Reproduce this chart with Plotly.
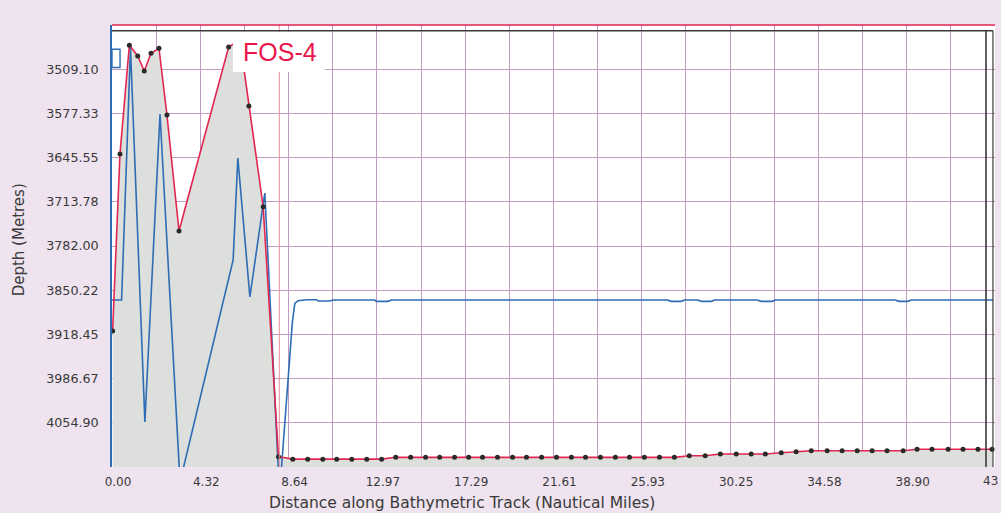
import plotly.graph_objects as go

# ---------------- data ----------------
# Red depth profile with black dots (distance in nautical miles, depth in metres)
profile_nm = [0.03, 0.39, 0.85, 1.26, 1.58, 1.91, 2.30, 2.69, 3.28, 5.71, 6.26, 6.70, 7.40, 8.15,
              8.85, 9.58, 10.32, 11.00, 11.74, 12.47, 13.20, 13.89, 14.62, 15.35, 16.04, 16.77,
              17.46, 18.14, 18.87, 19.61, 20.29, 21.03, 21.76, 22.49, 23.18, 23.91, 24.64, 25.33,
              26.06, 26.80, 27.53, 28.26, 29.04, 29.78, 30.56, 31.29, 31.98, 32.76, 33.49, 34.23,
              35.01, 35.74, 36.48, 37.21, 37.94, 38.73, 39.41, 40.14, 40.93, 41.66, 42.39, 43.08]
profile_depth = [3913.2, 3640.0, 3472.2, 3488.7, 3511.9, 3484.6, 3476.8, 3579.8, 3758.9, 3474.8,
                 3464.0, 3565.9, 3721.4, 4107.2,
                 4111.0, 4111.0, 4111.0, 4111.0, 4111.0, 4111.0, 4111.0, 4108.2, 4108.2, 4108.2,
                 4108.2, 4108.2, 4108.2, 4108.2, 4108.2, 4108.2, 4108.2, 4108.2, 4108.2, 4108.2,
                 4108.2, 4108.2, 4108.2, 4108.2, 4108.2, 4108.2, 4108.2, 4105.7, 4105.7, 4103.1,
                 4103.1, 4103.1, 4103.1, 4101.1, 4099.5, 4098.0, 4098.0, 4098.0, 4098.0, 4098.0,
                 4098.0, 4098.0, 4095.8, 4095.8, 4095.8, 4095.8, 4095.8, 4095.8]

# Blue track line
track_nm = [0.00, 0.47, 0.905, 1.61, 2.35, 3.33, 5.93, 6.16, 6.75, 7.48,
            8.20, 8.83, 8.95, 9.11, 9.52, 10.01, 10.09, 10.66, 10.82, 12.86,
            12.94, 13.51, 13.68, 27.19, 27.38, 27.87, 28.02, 28.65, 28.85, 29.34,
            29.49, 31.59, 31.78, 32.32, 32.47, 38.34, 38.53, 38.97, 39.12, 43.13]
track_depth = [3865.4, 3865.4, 3476.4, 4053.7, 3578.3, 4146.3, 3803.6, 3646.2, 3860.7, 3700.2,
               4164.8, 3899.3, 3870.5, 3866.4, 3864.9, 3864.9, 3866.9, 3866.9, 3865.4, 3865.4,
               3867.4, 3867.4, 3865.4, 3865.4, 3867.4, 3867.4, 3865.4, 3865.4, 3867.4, 3867.4,
               3865.4, 3865.4, 3867.4, 3867.4, 3865.4, 3865.4, 3867.4, 3867.4, 3865.4, 3865.4]

# Axis ticks
y_tick_values = [3509.10, 3577.33, 3645.55, 3713.78, 3782.00, 3850.22, 3918.45, 3986.67, 4054.90]
y_tick_labels = ["3509.10", "3577.33", "3645.55", "3713.78", "3782.00", "3850.22", "3918.45",
                 "3986.67", "4054.90"]
x_tick_labels = ["0.00", "4.32", "8.64", "12.97", "17.29", "21.61", "25.93", "30.25", "34.58",
                 "38.90", "43"]
x_tick_step = 4.3225
y_range = [4123.125, 3440.875]
x_range = [0.0, 43.225]
marker_line_nm = 8.19

# ---------------- styling ----------------
FONT = "DejaVu Sans, Verdana, sans-serif"
LABEL_FONT = "Liberation Sans, Arial, sans-serif"
RED = "#E3264F"
BLUE = "#2E6CB5"
GRID = "#C09CC2"
FILL = "#DCDFDB"
BG = "#EEE3EE"
TXT = "#3a3a3a"

# gridlines every half tick step, labels every full step (last label drawn at the edge)
x_grid_vals = []
x_grid_text = []
for i, lab in enumerate(x_tick_labels):
    x_grid_vals.append(i * x_tick_step)
    x_grid_text.append(lab if i < len(x_tick_labels) - 1 else "")
    if i < len(x_tick_labels) - 1:
        x_grid_vals.append((i + 0.5) * x_tick_step)
        x_grid_text.append("")

fig = go.Figure()

# baseline for the grey fill (bottom of the axis)
fig.add_trace(go.Scatter(
    x=[profile_nm[0], profile_nm[-1]], y=[y_range[0], y_range[0]],
    mode="lines", line=dict(width=0, color=FILL), hoverinfo="skip", showlegend=False))

fig.add_trace(go.Scatter(
    x=profile_nm, y=profile_depth, mode="lines", fill="tonexty", fillcolor=FILL,
    line=dict(width=0), hoverinfo="skip", showlegend=False))

fig.add_trace(go.Scatter(
    x=track_nm, y=track_depth, mode="lines",
    line=dict(color=BLUE, width=1.6), showlegend=False))

fig.add_trace(go.Scatter(
    x=profile_nm, y=profile_depth, mode="lines+markers",
    line=dict(color=RED, width=1.6),
    marker=dict(color="#2a2a2a", size=5),
    showlegend=False))

fig.update_layout(
    width=1001, height=513, autosize=False,
    margin=dict(l=112, r=6, t=25, b=46, pad=0, autoexpand=False),
    paper_bgcolor=BG, plot_bgcolor="white",
    font=dict(family=FONT, color=TXT, size=12),
    xaxis=dict(
        range=x_range, tickmode="array", tickvals=x_grid_vals, ticktext=x_grid_text,
        showgrid=True, gridcolor=GRID, gridwidth=1, zeroline=False, showline=False,
        ticks="", ticklabelshift=6, ticklabelstandoff=6, ticklabeloverflow="allow",
        automargin=False,
        tickfont=dict(family=FONT, size=12, color=TXT),
    ),
    yaxis=dict(
        range=y_range, tickmode="array", tickvals=y_tick_values, ticktext=y_tick_labels,
        showgrid=True, gridcolor=GRID, gridwidth=1, zeroline=False,
        showline=True, linecolor=BLUE, linewidth=1.6,
        ticks="", ticklabelstandoff=9, automargin=False,
        tickfont=dict(family=FONT, size=12.7, color=TXT),
    ),
    shapes=[
        # vertical marker at deepest point
        dict(type="line", xref="x", yref="paper", x0=marker_line_nm, x1=marker_line_nm,
             y0=0, y1=1, line=dict(color="#E98C9C", width=1), layer="above"),
        # white label box
        dict(type="rect", xref="paper", yref="paper", x0=0.137, x1=0.2412, y0=0.8937, y1=0.984,
             fillcolor="white", line=dict(width=0), layer="above"),
        # top red frame line
        dict(type="line", xref="paper", yref="paper", x0=0, x1=1, y0=1, y1=1,
             line=dict(color=RED, width=1.6), layer="above"),
        # black frame lines
        dict(type="line", xref="paper", yref="paper", x0=0, x1=0.9977, y0=0.987, y1=0.987,
             line=dict(color=TXT, width=1.4), layer="above"),
        dict(type="line", xref="paper", yref="paper", x0=0.9898, x1=0.9898, y0=0, y1=0.987,
             line=dict(color=TXT, width=1.6), layer="above"),
        dict(type="line", xref="paper", yref="paper", x0=0.9977, x1=0.9977, y0=0, y1=0.987,
             line=dict(color=TXT, width=1.2), layer="above"),
        # small blue box at top-left
        dict(type="rect", xref="paper", yref="paper", x0=0, x1=0.0091, y0=0.904, y1=0.945,
             fillcolor="white", line=dict(color=BLUE, width=1.4), layer="above"),
    ],
    annotations=[
        dict(text="FOS-4", xref="paper", yref="paper", x=0.190, y=0.9396,
             xanchor="center", yanchor="middle", showarrow=False,
             font=dict(family=LABEL_FONT, size=25, color="#E8174A")),
        dict(text=x_tick_labels[-1], xref="paper", yref="paper", x=1.0045, y=-0.0317,
             xanchor="right", yanchor="middle", showarrow=False, borderpad=0,
             font=dict(family=FONT, size=12, color=TXT)),
        dict(text="Depth (Metres)", xref="paper", yref="paper", x=-0.1055, y=0.5147,
             xanchor="center", yanchor="middle", textangle=-90, showarrow=False,
             font=dict(family=FONT, size=15, color=TXT)),
        dict(text="Distance along Bathymetric Track (Nautical Miles)", xref="paper", yref="paper",
             x=0.3964, y=-0.0814, xanchor="center", yanchor="middle", showarrow=False,
             font=dict(family=FONT, size=15.5, color=TXT)),
    ],
)

fig.write_html("out.html")
